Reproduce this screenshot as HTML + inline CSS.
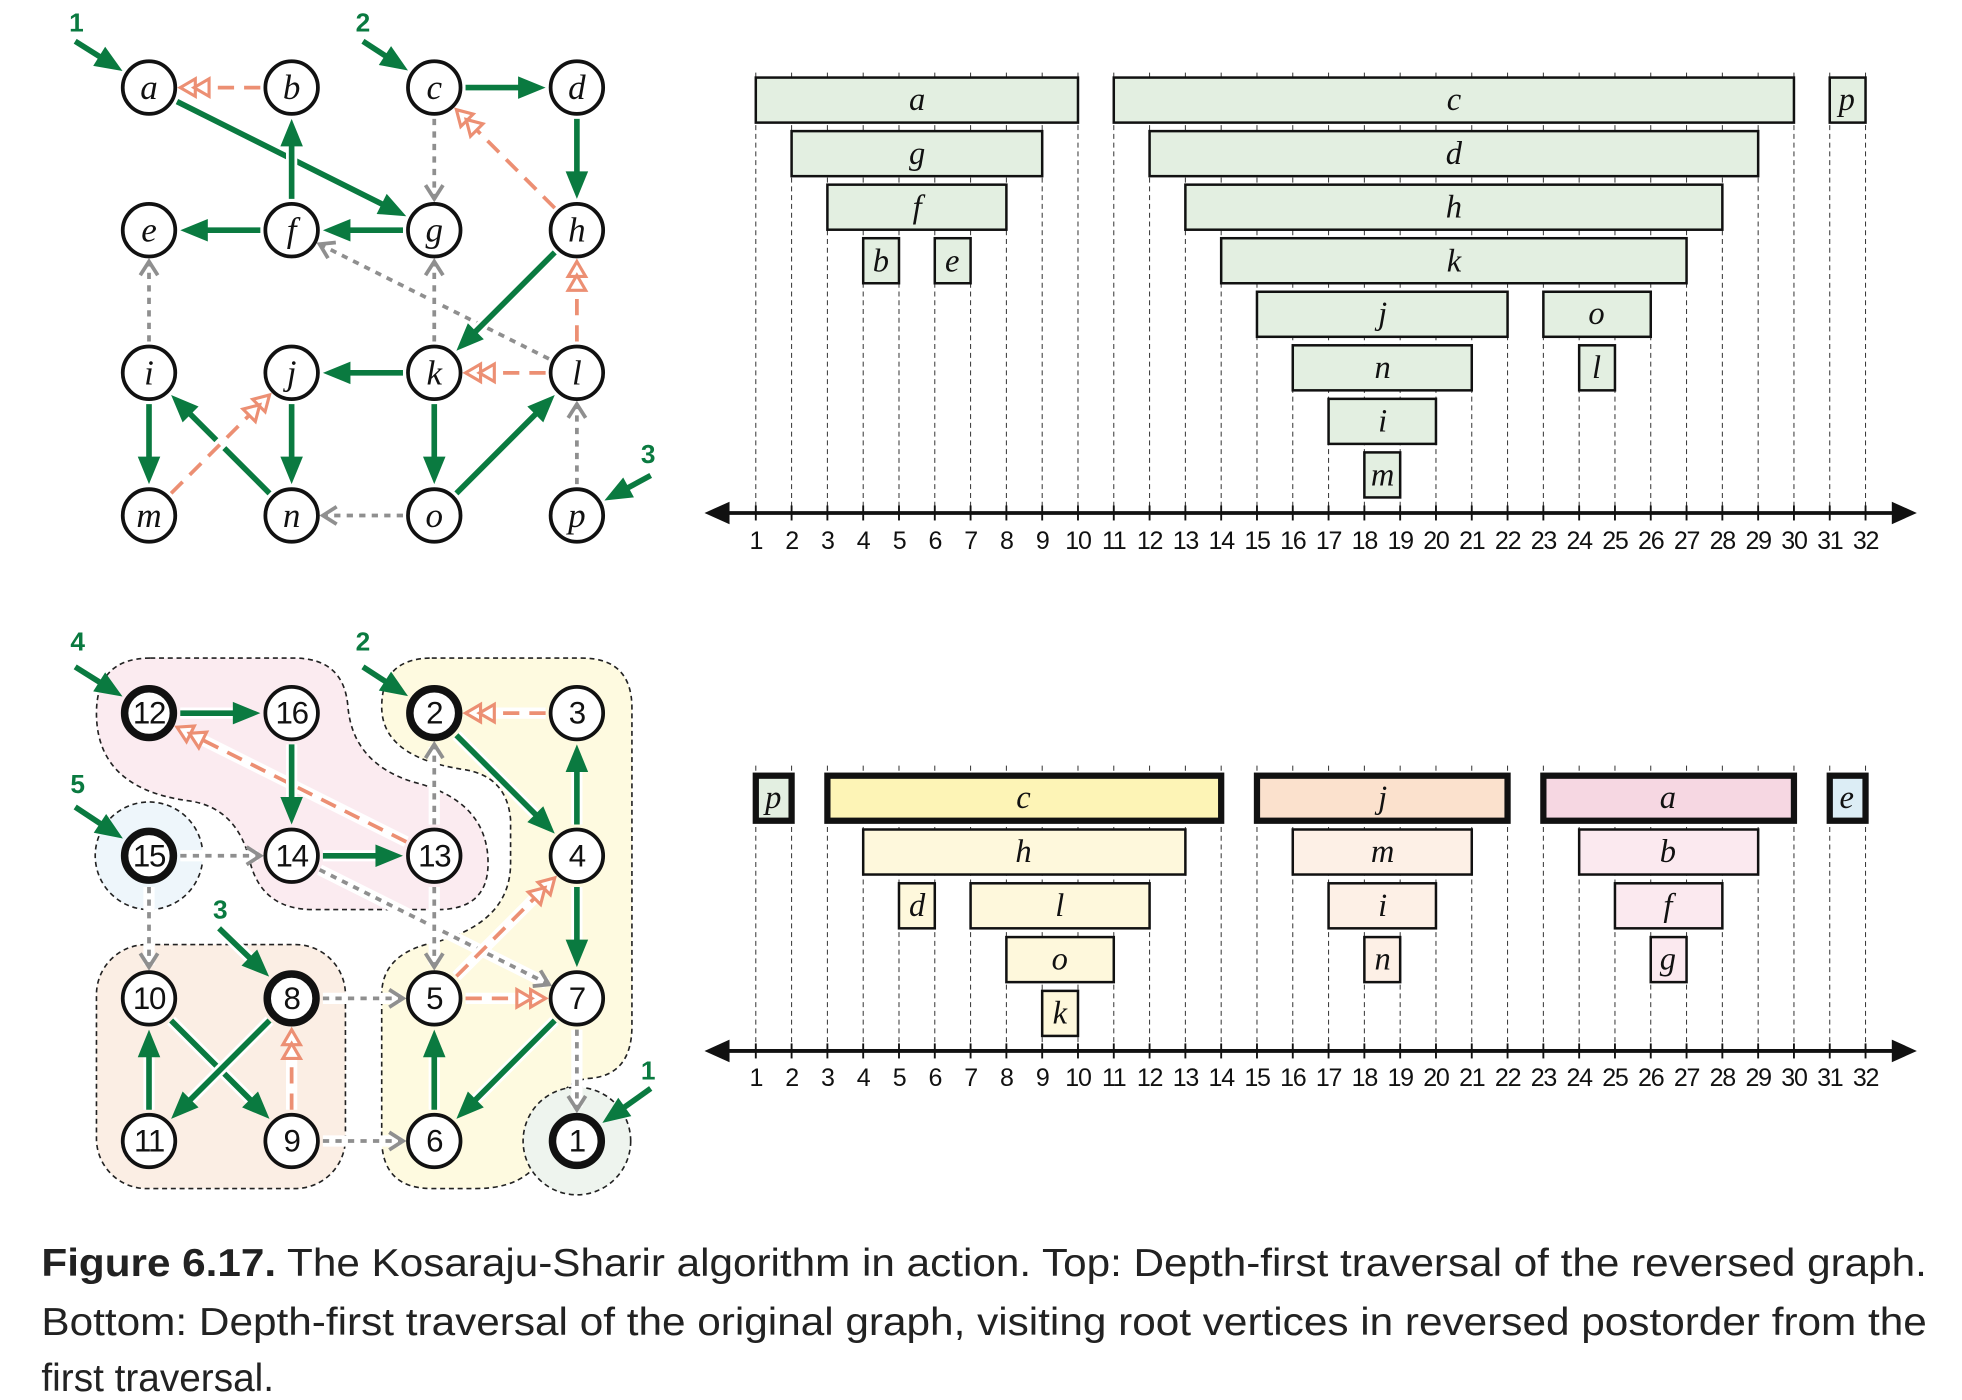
<!DOCTYPE html>
<html><head><meta charset="utf-8"><style>
html,body{margin:0;padding:0;background:#fff;}
svg{display:block;}
.nl{font-family:"Liberation Serif",serif;font-style:italic;font-size:28px;text-anchor:middle;dominant-baseline:central;fill:#111;}
.nd{font-family:"Liberation Sans",sans-serif;font-size:25px;text-anchor:middle;dominant-baseline:central;fill:#111;letter-spacing:-1px;}
.st{font-family:"Liberation Sans",sans-serif;font-weight:bold;font-size:21px;text-anchor:middle;fill:#0a7a40;}
.tk{font-family:"Liberation Sans",sans-serif;font-size:20px;text-anchor:middle;fill:#111;letter-spacing:-1px;}
.bl{font-family:"Liberation Serif",serif;font-style:italic;font-size:26px;text-anchor:middle;dominant-baseline:central;fill:#111;}
.cap{font-family:"Liberation Sans",sans-serif;font-size:31px;fill:#222;}
</style></head><body>
<svg id="s" width="1962" height="1400" viewBox="0 0 1568 1119" xmlns="http://www.w3.org/2000/svg">
<path d="M120,526 H235 Q275,526 278,565 Q282,610 330,625 Q390,640 390,690 Q390,727 350,727 H250 Q210,727 200,690 Q190,645 150,640 Q77,630 77,570 Q77,526 120,526 Z" fill="#fbebf0" stroke="#222" stroke-width="1.3" stroke-dasharray="4 3"/>
<path d="M345,526 H465 Q505,526 505,566 V820 Q505,860 470,862 Q445,865 440,900 Q435,950 380,950 H345 Q305,950 305,910 V795 Q305,765 340,755 Q408,740 408,690 V655 Q405,620 370,615 Q305,605 305,565 Q305,526 345,526 Z" fill="#fefae0" stroke="#222" stroke-width="1.3" stroke-dasharray="4 3"/>
<rect x="77" y="755" width="199" height="195" rx="40" fill="#fbeee4" stroke="#222" stroke-width="1.3" stroke-dasharray="4 3"/>
<circle cx="119" cy="684" r="43" fill="#eef6fb" stroke="#222" stroke-width="1.3" stroke-dasharray="4 3"/>
<circle cx="461" cy="912" r="43" fill="#eef4ee" stroke="#222" stroke-width="1.3" stroke-dasharray="4 3"/>
<g id="edges"></g>
<g id="nodes"></g>
<g id="tl"></g>
<g class="nl">
<text x="119" y="70">a</text><text x="233" y="70">b</text><text x="347" y="70">c</text><text x="461" y="70">d</text>
<text x="119" y="184">e</text><text x="233" y="184">f</text><text x="347" y="184">g</text><text x="461" y="184">h</text>
<text x="119" y="298">i</text><text x="233" y="298">j</text><text x="347" y="298">k</text><text x="461" y="298">l</text>
<text x="119" y="412">m</text><text x="233" y="412">n</text><text x="347" y="412">o</text><text x="461" y="412">p</text>
</g>
<g class="nd">
<text x="119" y="570">12</text><text x="233" y="570">16</text><text x="347" y="570">2</text><text x="461" y="570">3</text>
<text x="119" y="684">15</text><text x="233" y="684">14</text><text x="347" y="684">13</text><text x="461" y="684">4</text>
<text x="119" y="798">10</text><text x="233" y="798">8</text><text x="347" y="798">5</text><text x="461" y="798">7</text>
<text x="119" y="912">11</text><text x="233" y="912">9</text><text x="347" y="912">6</text><text x="461" y="912">1</text>
</g>
<g class="st">
<text x="61" y="25">1</text><text x="290" y="25">2</text><text x="518" y="370">3</text>
<text x="62" y="520">4</text><text x="290" y="520">2</text><text x="62" y="634">5</text><text x="176" y="734">3</text><text x="518" y="863">1</text>
</g>
<g class="tk" id="ticks">
<text x="604.0" y="439">1</text><text x="632.6" y="439">2</text><text x="661.2" y="439">3</text><text x="689.8" y="439">4</text><text x="718.5" y="439">5</text><text x="747.1" y="439">6</text><text x="775.7" y="439">7</text><text x="804.3" y="439">8</text><text x="832.9" y="439">9</text><text x="861.5" y="439">10</text><text x="890.1" y="439">11</text><text x="918.7" y="439">12</text><text x="947.4" y="439">13</text><text x="976.0" y="439">14</text><text x="1004.6" y="439">15</text><text x="1033.2" y="439">16</text><text x="1061.8" y="439">17</text><text x="1090.4" y="439">18</text><text x="1119.0" y="439">19</text><text x="1147.6" y="439">20</text><text x="1176.3" y="439">21</text><text x="1204.9" y="439">22</text><text x="1233.5" y="439">23</text><text x="1262.1" y="439">24</text><text x="1290.7" y="439">25</text><text x="1319.3" y="439">26</text><text x="1347.9" y="439">27</text><text x="1376.5" y="439">28</text><text x="1405.2" y="439">29</text><text x="1433.8" y="439">30</text><text x="1462.4" y="439">31</text><text x="1491.0" y="439">32</text>
<text x="604.0" y="868">1</text><text x="632.6" y="868">2</text><text x="661.2" y="868">3</text><text x="689.8" y="868">4</text><text x="718.5" y="868">5</text><text x="747.1" y="868">6</text><text x="775.7" y="868">7</text><text x="804.3" y="868">8</text><text x="832.9" y="868">9</text><text x="861.5" y="868">10</text><text x="890.1" y="868">11</text><text x="918.7" y="868">12</text><text x="947.4" y="868">13</text><text x="976.0" y="868">14</text><text x="1004.6" y="868">15</text><text x="1033.2" y="868">16</text><text x="1061.8" y="868">17</text><text x="1090.4" y="868">18</text><text x="1119.0" y="868">19</text><text x="1147.6" y="868">20</text><text x="1176.3" y="868">21</text><text x="1204.9" y="868">22</text><text x="1233.5" y="868">23</text><text x="1262.1" y="868">24</text><text x="1290.7" y="868">25</text><text x="1319.3" y="868">26</text><text x="1347.9" y="868">27</text><text x="1376.5" y="868">28</text><text x="1405.2" y="868">29</text><text x="1433.8" y="868">30</text><text x="1462.4" y="868">31</text><text x="1491.0" y="868">32</text>
</g>
<g class="bl">
<text x="733" y="80">a</text><text x="1162" y="80">c</text><text x="1476" y="80">p</text>
<text x="733" y="123">g</text><text x="1162" y="123">d</text>
<text x="733" y="166">f</text><text x="1162" y="166">h</text>
<text x="704" y="209">b</text><text x="761" y="209">e</text><text x="1162" y="209">k</text>
<text x="1105" y="251">j</text><text x="1276" y="251">o</text>
<text x="1105" y="294">n</text><text x="1276" y="294">l</text>
<text x="1105" y="337">i</text><text x="1105" y="380">m</text>
<text x="618" y="638">p</text><text x="818" y="638">c</text><text x="1105" y="638">j</text><text x="1333" y="638">a</text><text x="1476" y="638">e</text>
<text x="818" y="681">h</text><text x="1105" y="681">m</text><text x="1333" y="681">b</text>
<text x="733" y="724">d</text><text x="847" y="724">l</text><text x="1105" y="724">i</text><text x="1333" y="724">f</text>
<text x="847" y="767">o</text><text x="1105" y="767">n</text><text x="1333" y="767">g</text>
<text x="847" y="810">k</text>
</g>
<text class="cap" x="33" y="1020" textLength="1507" lengthAdjust="spacingAndGlyphs"><tspan font-weight="bold">Figure 6.17.</tspan> The Kosaraju-Sharir algorithm in action. Top: Depth-first traversal of the reversed graph.</text>
<text class="cap" x="33" y="1067" textLength="1507" lengthAdjust="spacingAndGlyphs">Bottom: Depth-first traversal of the original graph, visiting root vertices in reversed postorder from the</text>
<text class="cap" x="33" y="1112">first traversal.</text>
</svg>
<script>
(function(){
var NS="http://www.w3.org/2000/svg";
function el(p,t,a){var e=document.createElementNS(NS,t);for(var k in a)e.setAttribute(k,a[k]);p.appendChild(e);return e;}
var E=document.getElementById("edges"),N=document.getElementById("nodes"),T=document.getElementById("tl");
var G="#0a7a40",O="#ec8f73",Y="#8f8f8f";
var cx=[119,233,347,461];
var top={},bot={};
"abcdefghijklmnop".split("").forEach(function(c,i){top[c]=[cx[i%4],70+114*Math.floor(i/4)];});
[12,16,2,3,15,14,13,4,10,8,5,7,11,9,6,1].forEach(function(n,i){bot[n]=[cx[i%4],570+114*Math.floor(i/4)];});
var R=23;
function edge(p,q,type,startFree){
 var dx=q[0]-p[0],dy=q[1]-p[1],L=Math.hypot(dx,dy),ux=dx/L,uy=dy/L,px=-uy,py=ux;
 var s0=startFree?0:R+2; var sx=p[0]+ux*s0,sy=p[1]+uy*s0;
 var ex=q[0]-ux*(R+2),ey=q[1]-uy*(R+2);
 var col=type=="g"?G:type=="o"?O:Y;
 var lx=ex,ly=ey;
 if(type=="g"){lx=ex-ux*18;ly=ey-uy*18;}
 if(type=="o"){lx=ex-ux*24;ly=ey-uy*24;}
 if(type=="y"){lx=ex-ux*2;ly=ey-uy*2;}
 el(E,"line",{x1:sx,y1:sy,x2:lx,y2:ly,stroke:"#fff","stroke-width":9});
 var a={x1:sx,y1:sy,x2:lx,y2:ly,stroke:col,"stroke-width":type=="g"?4.5:3};
 if(type=="y")a["stroke-dasharray"]="5 5";
 if(type=="o")a["stroke-dasharray"]="13 8";
 el(E,"line",a);
 if(type=="g"){
  el(E,"polygon",{points:[ex,ey,ex-ux*22+px*9,ey-uy*22+py*9,ex-ux*22-px*9,ey-uy*22-py*9].join(","),fill:G});
 } else if(type=="y"){
  el(E,"polyline",{points:[ex-ux*11+px*7,ey-uy*11+py*7,ex,ey,ex-ux*11-px*7,ey-uy*11-py*7].join(","),fill:"none",stroke:Y,"stroke-width":3});
 } else {
  for(var k=0;k<2;k++){var tx=ex-ux*11*k,ty=ey-uy*11*k;
   el(E,"polygon",{points:[tx,ty,tx-ux*12+px*7,ty-uy*12+py*7,tx-ux*12-px*7,ty-uy*12-py*7].join(","),fill:"#fff",stroke:O,"stroke-width":2.5});}
 }
}
var te=[["a","g","g"],["f","b","g"],["b","a","o"],["c","d","g"],["c","g","y"],["h","c","o"],["d","h","g"],["f","e","g"],["g","f","g"],["l","f","y"],["k","g","y"],["h","k","g"],["l","h","o"],["k","j","g"],["l","k","o"],["i","e","y"],["i","m","g"],["n","i","g"],["m","j","o"],["j","n","g"],["k","o","g"],["o","l","g"],["o","n","y"],["p","l","y"]];
te.forEach(function(e){edge(top[e[0]],top[e[1]],e[2]);});
edge([60,33],top.a,"g",1);edge([290,33],top.c,"g",1);edge([520,380],top.p,"g",1);
var be=[[15,14,"y"],[15,10,"y"],[14,7,"y"],[13,12,"o"],[12,16,"g"],[16,14,"g"],[14,13,"g"],[13,2,"y"],[13,5,"y"],[3,2,"o"],[2,4,"g"],[4,3,"g"],[4,7,"g"],[5,4,"o"],[5,7,"o"],[7,6,"g"],[6,5,"g"],[7,1,"y"],[8,5,"y"],[9,6,"y"],[10,9,"g"],[8,11,"g"],[11,10,"g"],[9,8,"o"]];
be.forEach(function(e){edge(bot[e[0]],bot[e[1]],e[2]);});
edge([60,533],bot[12],"g",1);edge([290,533],bot[2],"g",1);edge([60,645],bot[15],"g",1);edge([175,742],bot[8],"g",1);edge([520,870],bot[1],"g",1);
for(var c in top)el(N,"circle",{cx:top[c][0],cy:top[c][1],r:21,fill:"#fff",stroke:"#111","stroke-width":3});
var thick={12:1,2:1,15:1,8:1,1:1};
for(var n in bot)el(N,"circle",{cx:bot[n][0],cy:bot[n][1],r:thick[n]?19.5:21,fill:"#fff",stroke:"#111","stroke-width":thick[n]?6:3});
function X(i){return 604+(i-1)*28.613;}
function axis(y,y0){
 for(var i=1;i<=32;i++){el(T,"line",{x1:X(i),y1:y0,x2:X(i),y2:y,stroke:"#333","stroke-width":0.8,"stroke-dasharray":"4 3"});
  el(T,"line",{x1:X(i),y1:y-6,x2:X(i),y2:y+6,stroke:"#111","stroke-width":1.5});}
 el(T,"line",{x1:575,y1:y,x2:1520,y2:y,stroke:"#111","stroke-width":3});
 el(T,"polygon",{points:[563,y,583,y-9,583,y+9].join(","),fill:"#111"});
 el(T,"polygon",{points:[1532,y,1512,y-9,1512,y+9].join(","),fill:"#111"});
}
axis(410,58);axis(840,612);
function bar(s,e,y,fill,sw){el(T,"rect",{x:X(s),y:y,width:X(e)-X(s),height:36,fill:fill,stroke:"#111","stroke-width":sw});}
var GF="#e3efe1";
var tb=[[1,10,0],[11,30,0],[31,32,0],[2,9,1],[12,29,1],[3,8,2],[13,28,2],[4,5,3],[6,7,3],[14,27,3],[15,22,4],[23,26,4],[16,21,5],[24,25,5],[17,20,6],[18,19,7]];
tb.forEach(function(b){bar(b[0],b[1],62+b[2]*42.8,GF,2);});
var by=[620,663,706,749,792];
var bb=[[1,2,0,GF,5],[3,14,0,"#fdf4b6",5],[15,22,0,"#fbe1cd",5],[23,30,0,"#f6d7e2",5],[31,32,0,"#dcedf5",5],
[4,13,1,"#fef8dc",2],[16,21,1,"#fdf0e6",2],[24,29,1,"#fbe9ef",2],
[5,6,2,"#fef8dc",2],[7,12,2,"#fef8dc",2],[17,20,2,"#fdf0e6",2],[25,28,2,"#fbe9ef",2],
[8,11,3,"#fef8dc",2],[18,19,3,"#fdf0e6",2],[26,27,3,"#fbe9ef",2],[9,10,4,"#fef8dc",2]];
bb.forEach(function(b){bar(b[0],b[1],by[b[2]],b[3],b[4]);});
})();
</script>
</body></html>
